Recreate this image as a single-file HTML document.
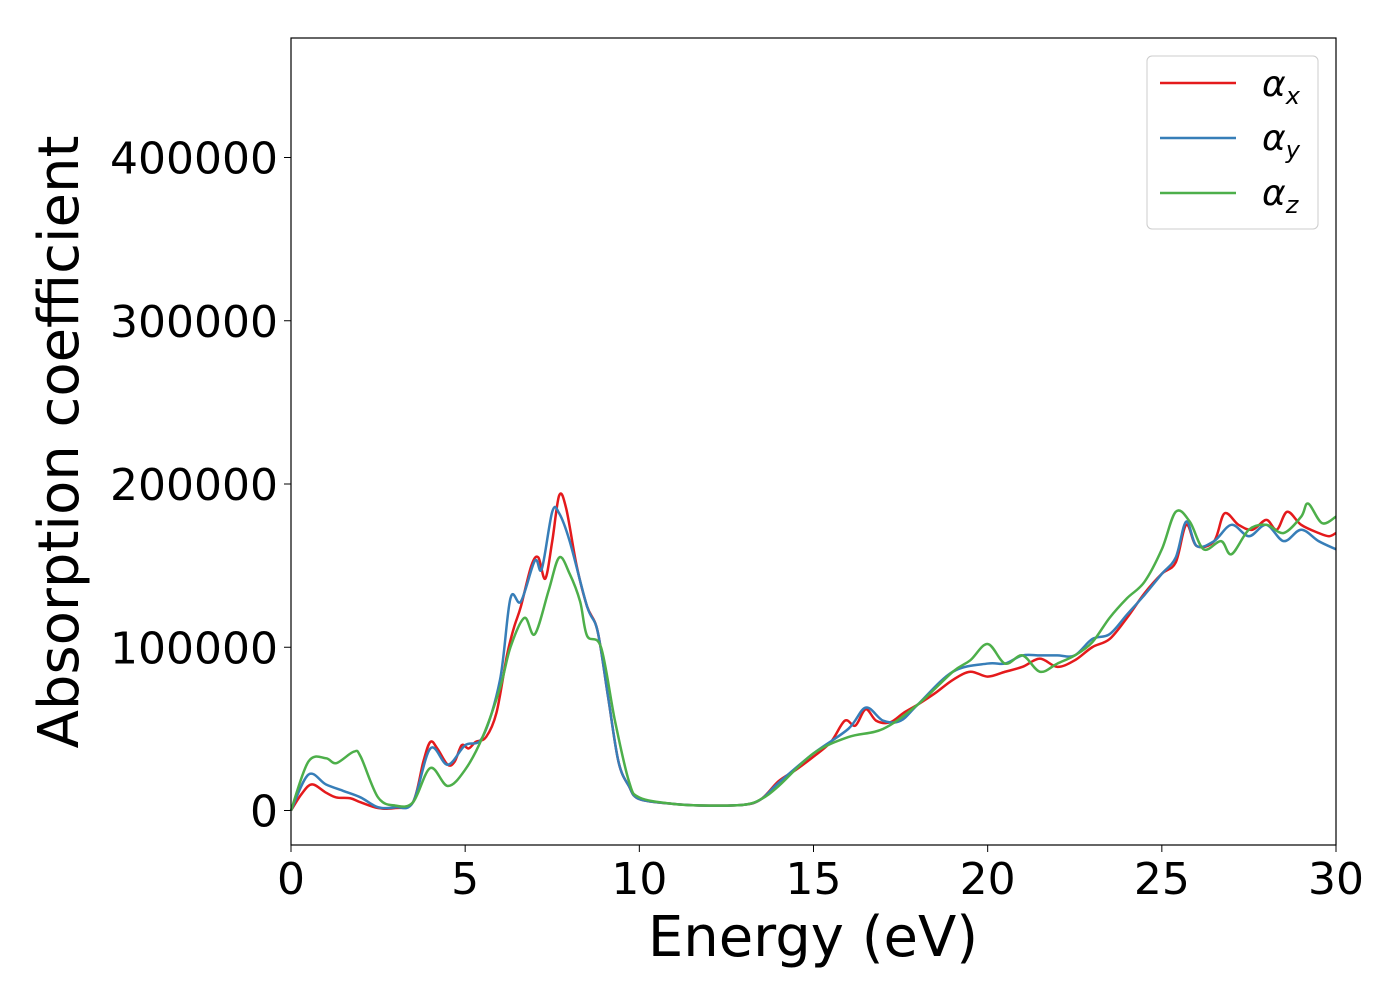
<!DOCTYPE html>
<html><head><meta charset="utf-8"><style>
body{margin:0;background:#fff}
svg text{font-family:"DejaVu Sans","Liberation Sans",sans-serif;fill:#000}
</style></head><body>
<svg id="c" width="1400" height="1000">
<rect x="0" y="0" width="1400" height="1000" fill="#fff"/>
<g id="ticks"></g>
<g id="lines"></g>
<rect x="291" y="38" width="1045" height="807" fill="none" stroke="#000" stroke-width="1.2"/>
<text x="813" y="956" font-size="56" text-anchor="middle">Energy (eV)</text>
<text transform="translate(78,442) rotate(-90)" font-size="56" text-anchor="middle">Absorption coefficient</text>
<g>
<rect x="1147" y="56" width="171" height="173" rx="5" fill="#fff" stroke="#ccc"/>
<line x1="1160" y1="83" x2="1236" y2="83" stroke="#e41a1c" stroke-width="2.5"/>
<text x="1262" y="96" font-size="36" font-style="italic">α<tspan font-size="24" dy="8">x</tspan></text>
<line x1="1160" y1="138" x2="1236" y2="138" stroke="#377eb8" stroke-width="2.5"/>
<text x="1262" y="150" font-size="36" font-style="italic">α<tspan font-size="24" dy="8">y</tspan></text>
<line x1="1160" y1="193" x2="1236" y2="193" stroke="#4daf4a" stroke-width="2.5"/>
<text x="1262" y="205" font-size="36" font-style="italic">α<tspan font-size="24" dy="8">z</tspan></text>
</g>
</svg>
<script>
const xTicks=[0,5,10,15,20,25,30];
const yTicks=[0,100000,200000,300000,400000];
const eX=[0,0.3,0.6,1.0,1.3,1.7,2.0,2.5,3.0,3.5,3.8,4.0,4.2,4.5,4.7,4.9,5.1,5.3,5.6,5.9,6.2,6.4,6.6,6.9,7.1,7.3,7.5,7.7,7.9,8.2,8.5,8.8,9.1,9.4,9.7,10,11,12,13,13.5,14,14.5,15,15.5,15.9,16.2,16.5,16.8,17.2,17.6,18,18.5,19,19.5,20,20.5,21,21.5,22,22.5,23,23.5,24,24.5,25,25.4,25.7,26,26.5,26.8,27.2,27.6,28,28.3,28.6,29,29.5,29.8,30];
const aX=[0,10000,16000,11000,8000,7500,5000,1500,1500,5000,30000,42000,38000,28000,30000,40000,38000,42000,45000,60000,95000,112000,125000,150000,155000,142000,165000,193000,185000,150000,125000,110000,70000,30000,15000,7000,4000,3000,3500,7000,18000,25000,33000,42000,55000,52000,62000,55000,54000,60000,65000,72000,80000,85000,82000,85000,88000,93000,88000,92000,100000,105000,118000,133000,145000,152000,175000,162000,165000,182000,175000,172000,178000,172000,183000,175000,170000,168000,170000];
const eY=[0,0.5,1.0,1.5,2.0,2.5,3.0,3.5,4.0,4.5,5.0,5.5,6.0,6.3,6.6,7.0,7.2,7.5,7.7,8.0,8.5,8.8,9.1,9.4,9.7,10,11,12,13,13.5,14,15,16,16.5,17,17.5,18,19,20,20.5,21,21.5,22,22.5,23,23.5,24,24.5,25,25.4,25.7,26,26.5,27,27.5,28,28.5,29,29.5,30];
const aY=[0,22000,16000,12000,8000,2000,2000,5000,38000,28000,40000,45000,80000,130000,128000,153000,148000,183000,182000,165000,125000,110000,70000,30000,15000,7000,4000,3000,3500,7000,17000,35000,50000,63000,55000,55000,65000,85000,90000,90000,95000,95000,95000,95000,105000,108000,120000,132000,145000,155000,177000,162000,165000,175000,168000,175000,165000,172000,165000,160000];
const eZ=[0,0.5,1.0,1.3,1.8,2.0,2.5,3.0,3.5,4.0,4.5,5.0,5.5,6.0,6.3,6.7,7.0,7.4,7.7,8.0,8.3,8.5,8.9,9.3,9.7,10,11,12,13,13.5,14,15,16,17,18,19,19.5,20,20.5,21,21.5,22,22.5,23,23.5,24,24.5,25,25.4,25.8,26.2,26.7,27,27.5,28,28.5,29,29.2,29.6,30];
const aZ=[0,30000,32000,29000,36000,33000,8000,3000,5000,26000,15000,25000,45000,75000,100000,118000,108000,135000,155000,145000,128000,107000,100000,55000,18000,8000,4000,3000,3500,7000,15000,35000,45000,50000,65000,85000,92000,102000,90000,95000,85000,90000,95000,103000,118000,130000,140000,160000,183000,177000,160000,165000,157000,172000,175000,170000,180000,188000,176000,180000];
const NS="http://www.w3.org/2000/svg";
const sx=v=>291+v*(1045/30);
const sy=v=>810.5-v*(163.25/100000);
const tg=document.getElementById('ticks');
xTicks.forEach(t=>{
 const l=document.createElementNS(NS,'line');
 l.setAttribute('x1',sx(t));l.setAttribute('x2',sx(t));l.setAttribute('y1',845);l.setAttribute('y2',852);l.setAttribute('stroke','#000');
 
 
 tg.appendChild(l);
 const tx=document.createElementNS(NS,'text');
 tx.setAttribute('x',sx(t));tx.setAttribute('y',894);tx.setAttribute('font-size','44');tx.setAttribute('text-anchor','middle');
 tx.textContent=t;
 
 
 tg.appendChild(tx);
});
yTicks.forEach(t=>{
 const l=document.createElementNS(NS,'line');
 l.setAttribute('x1',284);l.setAttribute('x2',291);l.setAttribute('y1',sy(t));l.setAttribute('y2',sy(t));l.setAttribute('stroke','#000');
 
 
 tg.appendChild(l);
 const tx=document.createElementNS(NS,'text');
 tx.setAttribute('x',278);tx.setAttribute('y',sy(t)+16);tx.setAttribute('font-size','44');tx.setAttribute('text-anchor','end');
 tx.textContent=t;
 
 
 tg.appendChild(tx);
});
function pathFor(xs,ys){
 const p=xs.map((x,i)=>[sx(x),sy(ys[i])]);
 let d='M'+p[0][0]+','+p[0][1];
 for(let i=0;i<p.length-1;i++){
  const p0=p[Math.max(0,i-1)],p1=p[i],p2=p[i+1],p3=p[Math.min(p.length-1,i+2)];
  const c1=[p1[0]+(p2[0]-p0[0])/6,p1[1]+(p2[1]-p0[1])/6];
  const c2=[p2[0]-(p3[0]-p1[0])/6,p2[1]-(p3[1]-p1[1])/6];
  d+=' C'+c1+' '+c2+' '+p2;
 }
 return d;
}
const lg=document.getElementById('lines');
[[eX,aX,'#e41a1c','series-alpha-x'],[eY,aY,'#377eb8','series-alpha-y'],[eZ,aZ,'#4daf4a','series-alpha-z']].forEach(s=>{
 const p=document.createElementNS(NS,'path');
 p.setAttribute('d',pathFor(s[0],s[1]));p.setAttribute('fill','none');p.setAttribute('stroke',s[2]);p.setAttribute('stroke-width','2.5');
 
 
 lg.appendChild(p);
});
</script>
</body></html>
